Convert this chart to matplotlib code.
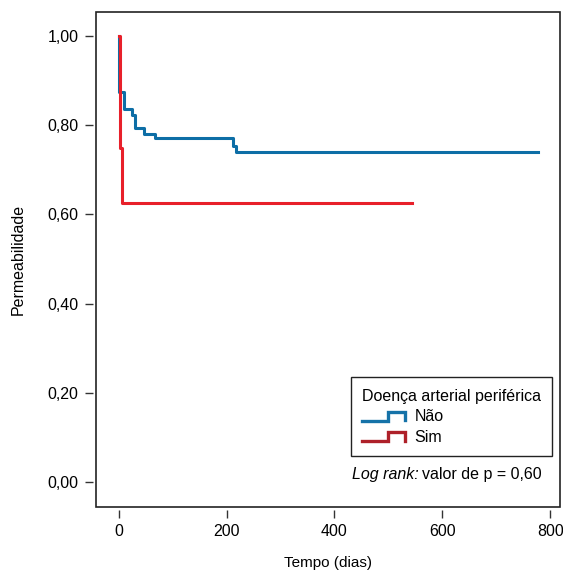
import numpy as np
import matplotlib.pyplot as plt
from matplotlib.legend_handler import HandlerBase
from matplotlib.lines import Line2D
from matplotlib.patches import Rectangle

plt.rcParams['font.family'] = ['Liberation Sans Narrow', 'Liberation Sans', 'DejaVu Sans']

# curvas de Kaplan-Meier (tempo em dias, permeabilidade)
tempo_nao = [0, 0, 10, 25, 31, 47, 68, 212, 217, 778]
perm_nao = [1.00, 0.875, 0.836, 0.822, 0.795, 0.781, 0.771, 0.753, 0.740, 0.740]
tempo_sim = [0, 3, 7, 544]
perm_sim = [1.00, 0.75, 0.625, 0.625]

grupos = ['Não', 'Sim']
cor_linha = ['#0d6ea6', '#e8202a']
cor_legenda = ['#1572a8', '#ae2029']

xticks = [0, 200, 400, 600, 800]
yticks = [0.0, 0.2, 0.4, 0.6, 0.8, 1.0]
ylabels = ['0,00', '0,20', '0,40', '0,60', '0,80', '1,00']


class HandlerDegrau(HandlerBase):
    def create_artists(self, legend, orig, xd, yd, w, h, fontsize, trans):
        xs = [xd, xd + 0.6 * w, xd + 0.6 * w, xd + w, xd + w]
        ys = [yd + 0.0 * h, yd + 0.0 * h, yd + 0.75 * h, yd + 0.75 * h, yd + 0.05 * h]
        ln = Line2D(xs, ys, color=orig.get_color(), lw=2.4, solid_joinstyle='miter')
        ln.set_transform(trans)
        return [ln]


fig = plt.figure(figsize=(5.63, 5.70), dpi=100)
ax = fig.add_axes([96 / 563, 63 / 570, 464 / 563, 495 / 570])

ax.step(tempo_nao, perm_nao, where='post', color=cor_linha[0], lw=2.2)
ax.step(tempo_sim, perm_sim, where='post', color=cor_linha[1], lw=2.2)

ax.set_xlim(-42, 818)
ax.set_ylim(-0.056, 1.054)
ax.set_xticks(xticks)
ax.set_xticklabels([str(t) for t in xticks])
ax.set_yticks(yticks)
ax.set_yticklabels(ylabels)

for s in ax.spines.values():
    s.set_visible(False)
ax.spines['left'].set_position(('outward', 2.5))
ax.spines['bottom'].set_position(('outward', 2.5))
ax.add_patch(Rectangle((0, 0), 1, 1, transform=ax.transAxes, fill=False,
                       edgecolor='#222222', lw=1.2, clip_on=False))
ax.tick_params(direction='out', length=6, width=1, color='#333333',
               labelsize=11.5, pad=4)

ax.set_xlabel('Tempo (dias)', fontsize=11, labelpad=12)
ax.set_ylabel('Permeabilidade', fontsize=11.5, labelpad=16)

handles = [Line2D([], [], color=c) for c in cor_legenda]
leg = ax.legend(handles, grupos, title='Doença arterial periférica',
                handler_map={Line2D: HandlerDegrau()},
                loc='lower right', bbox_to_anchor=(0.983, 0.103),
                borderaxespad=0,
                fontsize=11.5, title_fontsize=11.5, fancybox=False,
                edgecolor='#222222', framealpha=1, handlelength=2.7,
                handleheight=0.8, handletextpad=0.6, labelspacing=0.35,
                borderpad=0.7, alignment='left')
leg.get_frame().set_linewidth(1.0)

# texto do teste log rank, parte em itálico
t2 = ax.text(0.961, 0.057, 'valor de p = 0,60', transform=ax.transAxes,
             ha='right', va='baseline', fontsize=11.5)
fig.canvas.draw()
bb = t2.get_window_extent().transformed(ax.transAxes.inverted())
ax.text(bb.x0 - 0.008, 0.057, 'Log rank:', transform=ax.transAxes,
        ha='right', va='baseline', fontsize=11.5, style='italic')

fig.savefig('out.png', dpi=100)
